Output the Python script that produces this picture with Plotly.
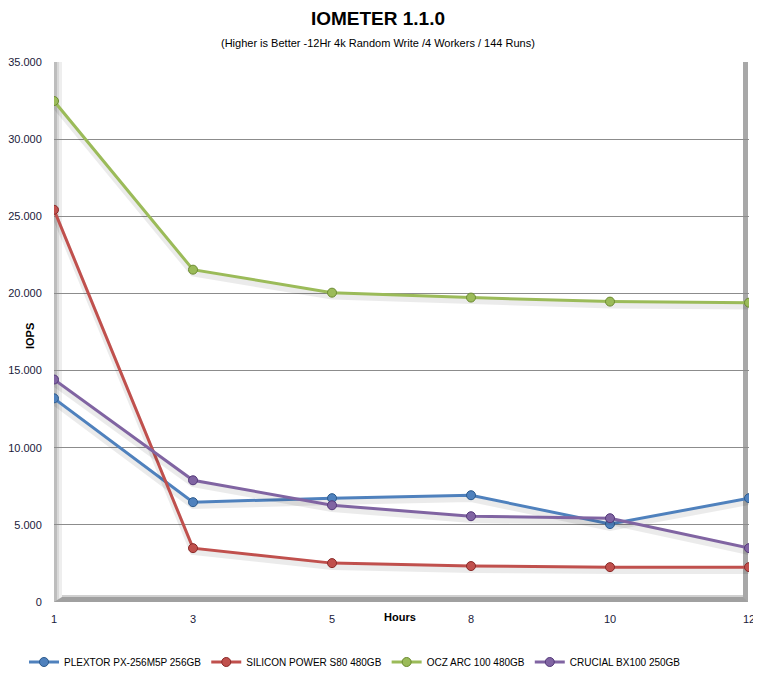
import plotly.graph_objects as go

hours = ["1", "3", "5", "8", "10", "12"]
plextor = [13200, 6470, 6730, 6920, 5050, 6730]
silicon = [25420, 3490, 2520, 2330, 2260, 2260]
ocz = [32470, 21540, 20050, 19730, 19470, 19400]
crucial = [14420, 7890, 6270, 5560, 5430, 3490]

series = [
    ("PLEXTOR PX-256M5P 256GB", plextor, "#4F81BD", "#2c5a8c"),
    ("SILICON POWER S80 480GB", silicon, "#C0504D", "#8a2a28"),
    ("OCZ ARC 100 480GB", ocz, "#9BBB59", "#6b8a30"),
    ("CRUCIAL BX100 250GB", crucial, "#8064A2", "#54397a"),
]

FONT = "Liberation Sans, Arial"
OFF = 8  # default page body margin
W, H = 761 - OFF, 695 - OFF
L, T, R, B = 54 - OFF, 62 - OFF, 12, 93
PW, PH = W - L - R, H - T - B  # plot area in px


def px(xpix):
    return (xpix - 54) / PW


def py(ypix):
    return (602 - ypix) / PH


fig = go.Figure()
xi = list(range(len(hours)))
for name, vals, col, dark in series:
    # soft shadow
    fig.add_trace(go.Scatter(x=xi, y=[v - 250 for v in vals], mode="lines", showlegend=False,
                             hoverinfo="skip",
                             line=dict(color="rgba(0,0,0,0.08)", width=6)))
    fig.add_trace(go.Scatter(x=xi, y=vals, name=name, mode="lines+markers",
                             line=dict(color=col, width=3),
                             marker=dict(size=9, color=col,
                                         line=dict(color=dark, width=1))))

shapes = [
    # left wall
    dict(type="rect", xref="paper", yref="paper", x0=0, x1=px(57), y0=0, y1=1,
         fillcolor="#bdbdbd", line_width=0, layer="below"),
    dict(type="rect", xref="paper", yref="paper", x0=px(57), x1=px(59.5), y0=0, y1=1,
         fillcolor="#d9d9d9", line_width=0, layer="below"),
    dict(type="rect", xref="paper", yref="paper", x0=px(59.5), x1=px(62), y0=0, y1=1,
         fillcolor="#eeeeee", line_width=0, layer="below"),
    # right wall
    dict(type="rect", xref="paper", yref="paper", x0=px(743), x1=px(748), y0=0, y1=1,
         fillcolor="#a8a8a8", line_width=0, layer="below"),
    # floor
    dict(type="path", xref="paper", yref="paper",
         path=f"M 0,0 L {px(62)},{py(597)} L {px(743)},{py(597)} L {px(748)},0 Z",
         fillcolor="#a0a0a0", line_width=0, layer="below"),
    dict(type="rect", xref="paper", yref="paper", x0=px(62), x1=px(743), y0=py(597), y1=py(595),
         fillcolor="#d0d0d0", line_width=0, layer="below"),
]

fig.update_layout(
    width=W, height=H,
    margin=dict(l=L, r=R, t=T, b=B, autoexpand=False),
    paper_bgcolor="white", plot_bgcolor="white",
    separators=",.",
    font=dict(family=FONT, size=11, color="#1a1a1a"),
    title=dict(text="<b>IOMETER 1.1.0</b>", x=(378 - OFF) / W, xanchor="center",
               y=1 - (18 - OFF) / H, yanchor="middle",
               font=dict(family=FONT, size=19, color="#000")),
    showlegend=True,
    legend=dict(orientation="h", x=px(24), xanchor="left", y=py(662), yanchor="middle",
                font=dict(family=FONT, size=10, color="#000"),
                itemwidth=30, bgcolor="rgba(0,0,0,0)"),
    shapes=shapes,
    annotations=[
        dict(text="(Higher is Better -12Hr 4k Random Write /4 Workers / 144 Runs)",
             xref="paper", yref="paper", x=px(378), y=py(43),
             xanchor="center", yanchor="middle", showarrow=False,
             font=dict(family=FONT, size=11, color="#000")),
        dict(text="<b>Hours</b>", xref="paper", yref="paper",
             x=px(400), y=py(617), xanchor="center", yanchor="middle",
             showarrow=False, font=dict(family=FONT, size=11, color="#000")),
        dict(text="<b>IOPS</b>", xref="paper", yref="paper", textangle=-90,
             x=px(30), y=py(336), xanchor="center", yanchor="middle",
             showarrow=False, font=dict(family=FONT, size=11, color="#000")),
    ],
)

fig.update_xaxes(range=[0, 5], tickvals=xi, ticktext=hours, showgrid=False,
                 zeroline=False, showline=False, ticks="outside", ticklen=7,
                 tickcolor="rgba(0,0,0,0)", automargin=False,
                 tickfont=dict(family=FONT, size=11, color="#1a1a3a"))
fig.update_yaxes(range=[0, 35000], dtick=5000, tickformat=",d", showgrid=True,
                 gridcolor="#8c8c8c", gridwidth=1, zeroline=False, showline=False,
                 ticks="outside", ticklen=9, tickcolor="rgba(0,0,0,0)", automargin=False,
                 tickfont=dict(family=FONT, size=11, color="#1a1a3a"))

fig.write_html("out.html")
